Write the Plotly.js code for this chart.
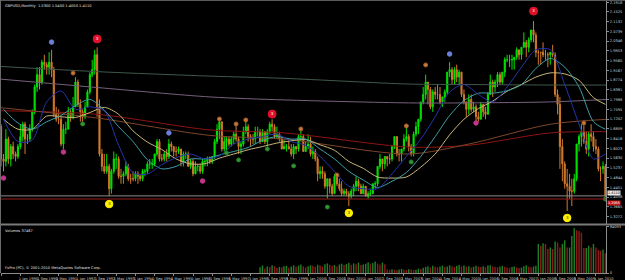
<!DOCTYPE html>
<html><head><meta charset="utf-8">
<script src="https://cdn.plot.ly/plotly-3.0.1.min.js"></script>
<style>html,body{margin:0;padding:0;background:#000;}#chart{width:625px;height:280px;}</style>
</head><body><div id="chart"></div>
<script>
// ---- DATA (monthly GBPUSD bars, May 1989 .. May 2010) ----
const firstOpen = 1.690;
const closes = [
 1.560,1.550,1.640,1.560,1.610,1.580,1.570,1.610,
 1.650,1.700,1.640,1.640,1.680,1.750,1.850,1.900,1.870,1.950,1.940,1.930,
 1.950,1.920,1.740,1.720,1.720,1.620,1.680,1.680,1.750,1.730,1.770,1.870,
 1.780,1.750,1.730,1.770,1.830,1.900,1.920,1.980,1.770,1.580,1.530,1.510,
 1.530,1.440,1.510,1.560,1.560,1.490,1.490,1.500,1.530,1.480,1.480,1.480,
 1.500,1.490,1.480,1.510,1.510,1.540,1.540,1.540,1.580,1.630,1.560,1.560,
 1.580,1.570,1.620,1.610,1.590,1.590,1.600,1.550,1.580,1.580,1.530,1.550,
 1.500,1.530,1.530,1.510,1.550,1.550,1.560,1.550,1.570,1.630,1.680,1.710,
 1.600,1.630,1.640,1.620,1.640,1.660,1.640,1.610,1.620,1.670,1.690,1.650,
 1.640,1.640,1.670,1.670,1.630,1.670,1.630,1.670,1.700,1.690,1.650,1.660,
 1.640,1.600,1.610,1.610,1.600,1.580,1.610,1.600,1.650,1.650,1.590,1.610,
 1.620,1.580,1.590,1.560,1.500,1.510,1.500,1.450,1.480,1.450,1.420,1.490,
 1.460,1.440,1.420,1.430,1.420,1.410,1.430,1.450,1.470,1.450,1.420,1.450,
 1.410,1.420,1.420,1.460,1.460,1.530,1.560,1.540,1.570,1.560,1.560,1.610,
 1.650,1.580,1.580,1.600,1.640,1.650,1.610,1.580,1.660,1.690,1.720,1.790,
 1.820,1.870,1.840,1.770,1.830,1.820,1.820,1.790,1.810,1.830,1.910,1.920,
 1.880,1.920,1.890,1.910,1.820,1.790,1.760,1.800,1.760,1.770,1.730,1.720,
 1.780,1.750,1.740,1.820,1.870,1.850,1.870,1.900,1.870,1.910,1.960,1.960,
 1.960,1.960,1.970,2.000,1.980,2.010,2.030,2.010,2.040,2.080,2.060,1.990,
 1.990,1.990,1.980,1.980,1.980,1.990,1.980,1.820,1.780,1.610,1.540,1.460,
 1.450,1.430,1.430,1.480,1.620,1.650,1.670,1.630,1.600,1.660,1.650,1.610,
 1.600,1.520,1.520,1.530,1.411
];
const highs = [
 1.700,1.580,1.680,1.650,1.620,1.630,1.590,1.620,
 1.700,1.710,1.710,1.660,1.700,1.760,1.860,1.930,1.930,1.960,1.980,1.950,
 1.990,2.000,1.930,1.770,1.760,1.730,1.700,1.710,1.770,1.760,1.810,1.890,
 1.880,1.800,1.760,1.790,1.840,1.910,1.960,2.000,2.010,1.800,1.600,1.580,
 1.580,1.540,1.520,1.590,1.580,1.570,1.520,1.510,1.550,1.540,1.500,1.510,
 1.510,1.510,1.500,1.520,1.520,1.550,1.560,1.560,1.580,1.640,1.640,1.580,
 1.590,1.600,1.640,1.630,1.610,1.610,1.610,1.600,1.590,1.590,1.590,1.560,
 1.560,1.550,1.540,1.540,1.560,1.560,1.570,1.570,1.570,1.640,1.700,1.720,
 1.710,1.650,1.650,1.650,1.650,1.670,1.700,1.650,1.630,1.690,1.710,1.700,
 1.660,1.660,1.690,1.690,1.680,1.680,1.670,1.680,1.710,1.720,1.700,1.690,
 1.670,1.650,1.640,1.620,1.640,1.620,1.620,1.610,1.660,1.680,1.660,1.630,
 1.660,1.650,1.610,1.600,1.570,1.530,1.530,1.510,1.480,1.480,1.460,1.500,
 1.500,1.480,1.470,1.440,1.440,1.430,1.440,1.460,1.490,1.480,1.460,1.460,
 1.450,1.430,1.440,1.460,1.470,1.530,1.580,1.560,1.570,1.570,1.580,1.610,
 1.650,1.650,1.600,1.600,1.660,1.700,1.660,1.620,1.670,1.710,1.720,1.790,
 1.850,1.900,1.870,1.850,1.840,1.850,1.860,1.850,1.810,1.840,1.910,1.950,
 1.930,1.930,1.940,1.920,1.910,1.840,1.790,1.820,1.820,1.790,1.780,1.750,
 1.790,1.780,1.770,1.830,1.900,1.880,1.880,1.910,1.910,1.910,1.970,1.980,
 1.980,1.980,1.970,2.010,2.000,2.010,2.070,2.040,2.050,2.080,2.116,2.070,
 2.000,1.990,2.030,2.000,1.990,1.990,2.020,1.990,1.840,1.810,1.640,1.550,
 1.520,1.500,1.480,1.500,1.620,1.660,1.700,1.700,1.670,1.670,1.700,1.670,
 1.640,1.610,1.530,1.550,1.540
];
const lows = [
 1.530,1.510,1.530,1.540,1.530,1.560,1.550,1.560,
 1.600,1.630,1.580,1.620,1.630,1.670,1.740,1.830,1.840,1.860,1.920,1.900,
 1.900,1.890,1.730,1.710,1.700,1.610,1.600,1.660,1.680,1.710,1.720,1.770,
 1.770,1.710,1.700,1.720,1.770,1.820,1.890,1.900,1.730,1.570,1.510,1.500,
 1.500,1.410,1.420,1.500,1.520,1.480,1.460,1.460,1.490,1.470,1.460,1.470,
 1.470,1.460,1.470,1.470,1.490,1.500,1.520,1.520,1.530,1.570,1.550,1.550,
 1.550,1.550,1.560,1.590,1.570,1.570,1.580,1.530,1.530,1.560,1.530,1.520,
 1.490,1.500,1.510,1.500,1.500,1.530,1.530,1.540,1.540,1.560,1.620,1.640,
 1.590,1.590,1.590,1.610,1.610,1.620,1.630,1.580,1.580,1.610,1.660,1.630,
 1.610,1.620,1.620,1.650,1.620,1.630,1.620,1.610,1.660,1.670,1.640,1.640,
 1.630,1.600,1.600,1.590,1.600,1.570,1.560,1.580,1.590,1.630,1.590,1.590,
 1.600,1.570,1.560,1.550,1.470,1.480,1.480,1.440,1.400,1.420,1.410,1.420,
 1.450,1.430,1.410,1.410,1.410,1.370,1.400,1.410,1.430,1.430,1.420,1.420,
 1.410,1.400,1.410,1.420,1.440,1.450,1.520,1.510,1.520,1.530,1.540,1.550,
 1.600,1.570,1.550,1.550,1.590,1.630,1.590,1.570,1.570,1.650,1.660,1.710,
 1.780,1.800,1.780,1.760,1.750,1.800,1.800,1.780,1.770,1.790,1.820,1.890,
 1.860,1.860,1.870,1.860,1.810,1.780,1.730,1.740,1.750,1.750,1.710,1.710,
 1.720,1.730,1.720,1.740,1.820,1.810,1.830,1.850,1.860,1.860,1.890,1.950,
 1.930,1.920,1.920,1.960,1.960,1.960,2.010,1.970,1.990,2.030,2.030,1.970,
 1.940,1.940,1.970,1.960,1.930,1.940,1.970,1.810,1.740,1.520,1.470,1.440,
 1.350,1.400,1.370,1.420,1.470,1.590,1.610,1.620,1.580,1.570,1.630,1.590,
 1.580,1.510,1.470,1.500,1.405
];
// tick volumes, May 1998 .. May 2010
const volStartIndex = 108;
const volumes = [
 10500,13800,8000,12000,11000,14000,12500,9000,
 11000,10500,12500,13000,9500,12000,14000,11500,13500,15500,12000,10000,
 12500,14000,13000,11500,15000,13500,12000,16000,17500,15000,13000,14500,
 12000,15500,17000,14500,16500,18500,15000,17500,16000,19000,14500,15500,
 17000,19500,16000,18000,21000,17000,15500,19000,16000,6500,5500,7000,
 6000,5000,6500,7500,6000,5500,7000,6500,5500,6000,8000,7500,
 9500,11000,12500,10000,13000,11500,10500,12000,13500,11000,12000,14000,
 12500,11000,13000,14500,12000,13500,11500,12500,10000,11500,13000,12000,
 11000,12500,10500,13500,14000,12000,11000,10500,12000,13000,11500,10000,
 9500,11000,12000,10500,9000,10000,12500,14000,11500,10500,12000,13000,
 52600,49600,54400,52600,43700,46500,43700,57300,55500,46500,52600,59800,
 46500,46500,67500,81300,77700,76400,73400,45500,45500,49600,46500,52600,
 46500,41900,40600,43000,35800
];
// moving-average lines (semiannual points)
const maDates = ['1989-06-01','1989-12-01','1990-06-01','1990-12-01','1991-06-01','1991-12-01','1992-06-01','1992-12-01','1993-06-01','1993-12-01','1994-06-01','1994-12-01','1995-06-01','1995-12-01','1996-06-01','1996-12-01','1997-06-01','1997-12-01','1998-06-01','1998-12-01','1999-06-01','1999-12-01','2000-06-01','2000-12-01','2001-06-01','2001-12-01','2002-06-01','2002-12-01','2003-06-01','2003-12-01','2004-06-01','2004-12-01','2005-06-01','2005-12-01','2006-06-01','2006-12-01','2007-06-01','2007-12-01','2008-06-01','2008-12-01','2009-06-01','2009-12-01','2010-05-01'];
const maFast = [1.72,1.63,1.636,1.79,1.834,1.76,1.77,1.754,1.615,1.504,1.499,1.537,1.565,1.58,1.56,1.572,1.62,1.64,1.65,1.66,1.63,1.615,1.57,1.51,1.45,1.44,1.44,1.50,1.57,1.64,1.73,1.83,1.86,1.82,1.79,1.85,1.93,2.00,2.00,1.86,1.70,1.56,1.58];
const maMid = [1.76,1.705,1.68,1.71,1.735,1.775,1.80,1.757,1.69,1.63,1.557,1.52,1.53,1.56,1.56,1.576,1.59,1.606,1.635,1.65,1.64,1.64,1.60,1.56,1.51,1.475,1.445,1.47,1.505,1.57,1.65,1.735,1.795,1.825,1.825,1.835,1.86,1.925,1.965,1.93,1.85,1.71,1.68];
const maSlow = [1.72,1.68,1.68,1.733,1.73,1.727,1.747,1.768,1.74,1.673,1.628,1.598,1.56,1.54,1.541,1.563,1.58,1.597,1.61,1.624,1.633,1.638,1.617,1.595,1.55,1.522,1.487,1.483,1.487,1.527,1.58,1.657,1.72,1.763,1.793,1.833,1.86,1.89,1.907,1.903,1.877,1.807,1.78];
const longDates = ['1989-01-01','1992-09-01','1996-08-01','1999-03-01','2003-07-01','2005-08-01','2008-06-01','2010-06-01'];
const maGreen  = [1.935,1.912,1.894,1.885,1.862,1.860,1.858,1.858];
const maPurple = [1.885,1.848,1.810,1.798,1.786,1.786,1.790,1.800];
const maRed    = [1.755,1.740,1.677,1.665,1.608,1.615,1.665,1.670];
const maBrown  = [1.770,1.725,1.655,1.640,1.580,1.620,1.700,1.720];
// signal dots
const blueDates = ['1991-02-01','1995-03-01','2004-12-01'];      const blueVals = [2.031,1.665,1.983];
const redDates = ['1992-09-01','1998-10-01','2007-11-01'];       const redVals = [2.044,1.741,2.156];
const yellowDates = ['1993-02-01','2001-06-01','2009-01-01'];    const yellowVals = [1.378,1.342,1.322];
const orangeDates = ['1991-11-01','1996-12-01','1997-07-01','1997-11-01','1999-10-01','2001-01-01','2003-06-01','2004-02-01','2009-08-01'];
const orangeVals = [1.906,1.721,1.701,1.717,1.681,1.495,1.693,1.939,1.705];
const magentaDates = ['1989-06-01','1991-07-01','1996-05-01','2005-11-01']; const magentaVals = [1.483,1.588,1.471,1.705];
const greenDates = ['1992-03-01','1997-03-01','1997-08-01','1998-08-01','1999-07-01','2000-09-01','2003-08-01','2010-05-01'];
const greenVals = [1.701,1.584,1.556,1.600,1.532,1.366,1.548,1.398];
// horizontal levels: bid line and red level
const bidLevel = 1.4110;
const redLevel = 1.3985;
const volMaxLabel = 84093;

// ---- BUILD ----
const dates = closes.map((_, i) => {
  const t = 4 + i; const y = 1989 + Math.floor(t / 12); const mo = t % 12 + 1;
  return y + '-' + String(mo).padStart(2, '0') + '-01';
});
const opens = [firstOpen].concat(closes.slice(0, -1));
const volDates = dates.slice(volStartIndex, volStartIndex + volumes.length);
const volColors = volumes.map((v, i) => (i > 0 && v < volumes[i - 1]) ? '#8e1b1b' : '#1f7f25');

const F = 'DejaVu Sans';
const tf = {family: F, size: 3.6, color: '#d0d0d0'};
function line(x, y, color, w) {
  return {type: 'scatter', mode: 'lines', x: x, y: y, line: {color: color, width: w || 1, shape: 'spline', smoothing: 0.8}, hoverinfo: 'skip', xaxis: 'x', yaxis: 'y'};
}
function dots(x, y, color, size, lineColor, text, textColor) {
  return {type: 'scatter', mode: text ? 'markers+text' : 'markers', x: x, y: y, text: text ? x.map(() => text) : undefined,
    textposition: 'middle center', textfont: {family: F, size: 4, color: textColor || '#fff'},
    marker: {color: color, size: size, line: {color: lineColor || color, width: 1}}, hoverinfo: 'skip', xaxis: 'x', yaxis: 'y'};
}

const traces = [
  line(longDates, maGreen, '#40594a'),
  line(longDates, maPurple, '#76607c'),
  line(longDates, maRed, '#8e1414'),
  line(longDates, maBrown, '#7e4428'),
  line(maDates, maSlow, '#c6b67a'),
  line(maDates, maMid, '#3f9ea6'),
  line(maDates, maFast, '#2535a8'),
  {type: 'candlestick', x: dates, open: opens, high: highs, low: lows, close: closes,
    increasing: {line: {color: '#00e400', width: 1}, fillcolor: '#00e400'},
    decreasing: {line: {color: '#d27a2c', width: 1}, fillcolor: '#d27a2c'},
    whiskerwidth: 0, hoverinfo: 'skip', xaxis: 'x', yaxis: 'y'},
  dots(orangeDates, orangeVals, '#c87a3c', 4, '#a05a28'),
  dots(greenDates, greenVals, '#2f9a34', 4, '#257a28'),
  dots(magentaDates, magentaVals, '#c2338c', 4.5),
  dots(blueDates, blueVals, '#6a80d8', 4.5),
  dots(redDates, redVals, '#e0102a', 8, '#e0102a', '3', '#ffffff'),
  dots(yellowDates, yellowVals, '#ffee00', 7.5, '#ffee00', '3', '#333300'),
  {type: 'bar', x: volDates, y: volumes, marker: {color: volColors, line: {width: 0}}, hoverinfo: 'skip', xaxis: 'x', yaxis: 'y2'}
];

const H = 280, T = 1, B = 7, plotH = H - T - B;
const py = (pix) => (H - B - pix) / plotH;   // image pixel row -> paper y
const W = 625, L = 1, R = 19, plotW = W - L - R;
const px = (pix) => (pix - L) / plotW;       // image pixel col -> paper x

const layout = {
  width: W, height: H, margin: {l: L, r: R, t: T, b: B, pad: 0},
  paper_bgcolor: '#000', plot_bgcolor: '#000', showlegend: false, bargap: 0.35,
  font: {family: F, color: '#d0d0d0'},
  xaxis: {type: 'date', range: ['1989-04-30', '2010-05-09'], anchor: 'y2', rangeslider: {visible: false},
    showgrid: false, zeroline: false, showline: true, linecolor: '#8c8c8c', linewidth: 1,
    ticks: 'outside', ticklen: 2, tickcolor: '#8c8c8c', tick0: '1989-05-01', dtick: 'M8',
    tickformat: '%-d %b %Y', tickangle: 0, tickfont: tf, ticklabelshift: 8},
  yaxis: {domain: [py(223.5), 1], range: [1.2997, 2.1968], side: 'right', showgrid: false, zeroline: false,
    showline: true, linecolor: '#8c8c8c', ticks: 'outside', ticklen: 2, tickcolor: '#8c8c8c',
    tick0: 2.1525, dtick: 0.0393, tickformat: '.4f', tickfont: tf},
  yaxis2: {domain: [0, py(225.5)], range: [0, 86500], side: 'right', showgrid: false, zeroline: false,
    showline: true, linecolor: '#8c8c8c', ticks: 'outside', ticklen: 2, tickcolor: '#8c8c8c',
    tickvals: [0, volMaxLabel], ticktext: ['0', String(volMaxLabel)], tickfont: tf},
  shapes: [
    {type: 'line', xref: 'paper', yref: 'y', x0: 0, x1: 1, y0: bidLevel, y1: bidLevel, line: {color: '#8a8a8a', width: 1}},
    {type: 'line', xref: 'paper', yref: 'y', x0: 0, x1: 1, y0: redLevel, y1: redLevel, line: {color: '#9a1c1c', width: 1}},
    {type: 'line', xref: 'paper', yref: 'paper', x0: px(0), x1: px(625), y0: py(224.5), y1: py(224.5), line: {color: '#7a7a7a', width: 2}},
    {type: 'line', xref: 'paper', yref: 'paper', x0: px(0), x1: px(625), y0: py(0.5), y1: py(0.5), line: {color: '#5a5a5a', width: 1}},
    {type: 'line', xref: 'paper', yref: 'paper', x0: px(0.5), x1: px(0.5), y0: py(0), y1: py(273), line: {color: '#6a6a6a', width: 1}}
  ],
  annotations: [
    {xref: 'paper', yref: 'paper', x: px(3), y: py(2.5), xanchor: 'left', yanchor: 'top', showarrow: false,
      text: 'GBPUSD,Monthly  1.5300 1.5400 1.4050 1.4110', font: {family: F, size: 3.6, color: '#e0e0e0'}},
    {xref: 'paper', yref: 'paper', x: px(3), y: py(226.5), xanchor: 'left', yanchor: 'top', showarrow: false,
      text: 'Volumes 37467', font: {family: F, size: 3.6, color: '#e0e0e0'}},
    {xref: 'paper', yref: 'paper', x: px(3), y: py(272), xanchor: 'left', yanchor: 'bottom', showarrow: false,
      text: 'FxPro (PC), © 2001-2010 MetaQuotes Software Corp.', font: {family: F, size: 3.6, color: '#e0e0e0'}},
    {xref: 'paper', yref: 'y', x: 1.002, y: bidLevel, xanchor: 'left', yanchor: 'bottom', yshift: -0.5, showarrow: false,
      text: bidLevel.toFixed(4), bgcolor: '#e8e8e8', borderpad: 0, font: {family: F, size: 3.4, color: '#000'}},
    {xref: 'paper', yref: 'y', x: 1.002, y: redLevel, xanchor: 'left', yanchor: 'top', yshift: -0.5, showarrow: false,
      text: redLevel.toFixed(4), bgcolor: '#c81818', borderpad: 0, font: {family: F, size: 3.4, color: '#fff'}}
  ]
};
Plotly.newPlot('chart', traces, layout, {staticPlot: true, displayModeBar: false});
</script></body></html>
